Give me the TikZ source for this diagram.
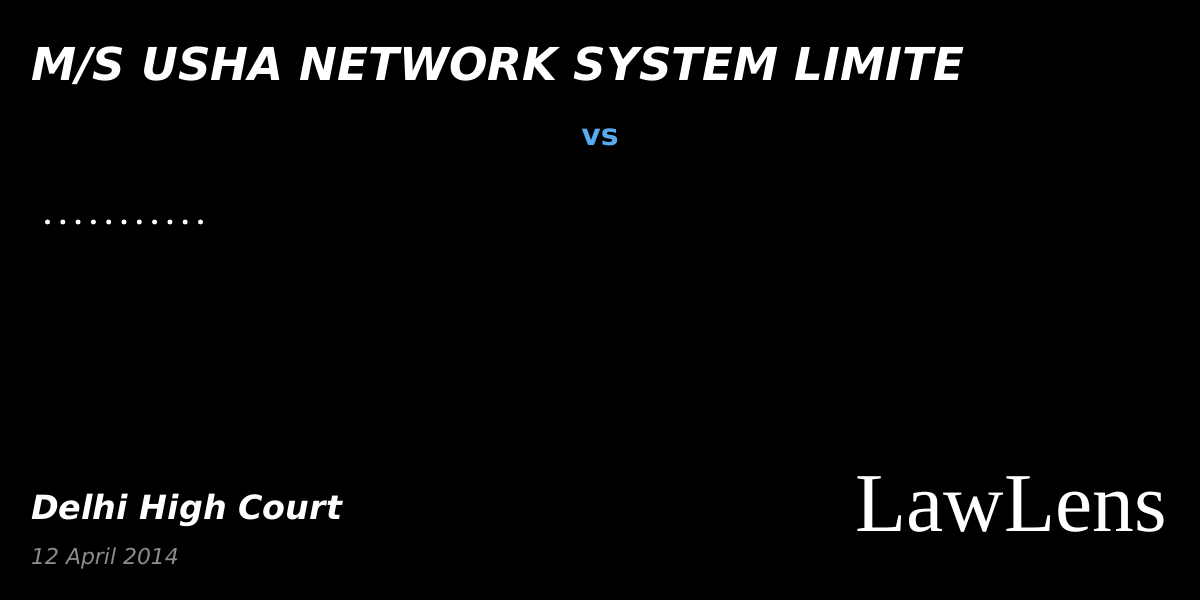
\documentclass[tikz,border=0pt]{standalone}
\usepackage{fontspec}
\setmainfont{Liberation Serif}
\setsansfont{DejaVu Sans}
\begin{document}
\begin{tikzpicture}[x=1bp,y=-1bp,
  t/.style={inner sep=0pt,anchor=west,font=\sffamily},
  dot/.style={circle,fill=white,inner sep=0pt,minimum size=5bp}]
\fill[black] (0,0) rectangle (1200,600);
\useasboundingbox (0,0) rectangle (1200,600);
\node[t,text=white,font=\sffamily\bfseries\itshape\fontsize{45.5}{50}\selectfont] (title) at (31,66) {M/S USHA NETWORK SYSTEM LIMITE};
\node[inner sep=0pt,text={rgb,255:red,90;green,170;blue,240},font=\sffamily\bfseries\fontsize{30}{36}\selectfont] (vs) at (600,137) {vs};
\foreach \i in {0,...,10} \node[dot] (d\i) at (47.5+15.3*\i,222) {};
\node[t,text=white,font=\sffamily\bfseries\itshape\fontsize{33.5}{40}\selectfont] (court) at (31,510) {Delhi High Court};
\node[t,text={rgb,255:red,140;green,140;blue,140},font=\sffamily\itshape\fontsize{22}{28}\selectfont] (date) at (31,558) {12 April 2014};
\node[inner sep=0pt,anchor=east,text=white,font=\fontsize{84}{88}\selectfont] (logo) at (1167,505) {LawLens};
\end{tikzpicture}
\end{document}
